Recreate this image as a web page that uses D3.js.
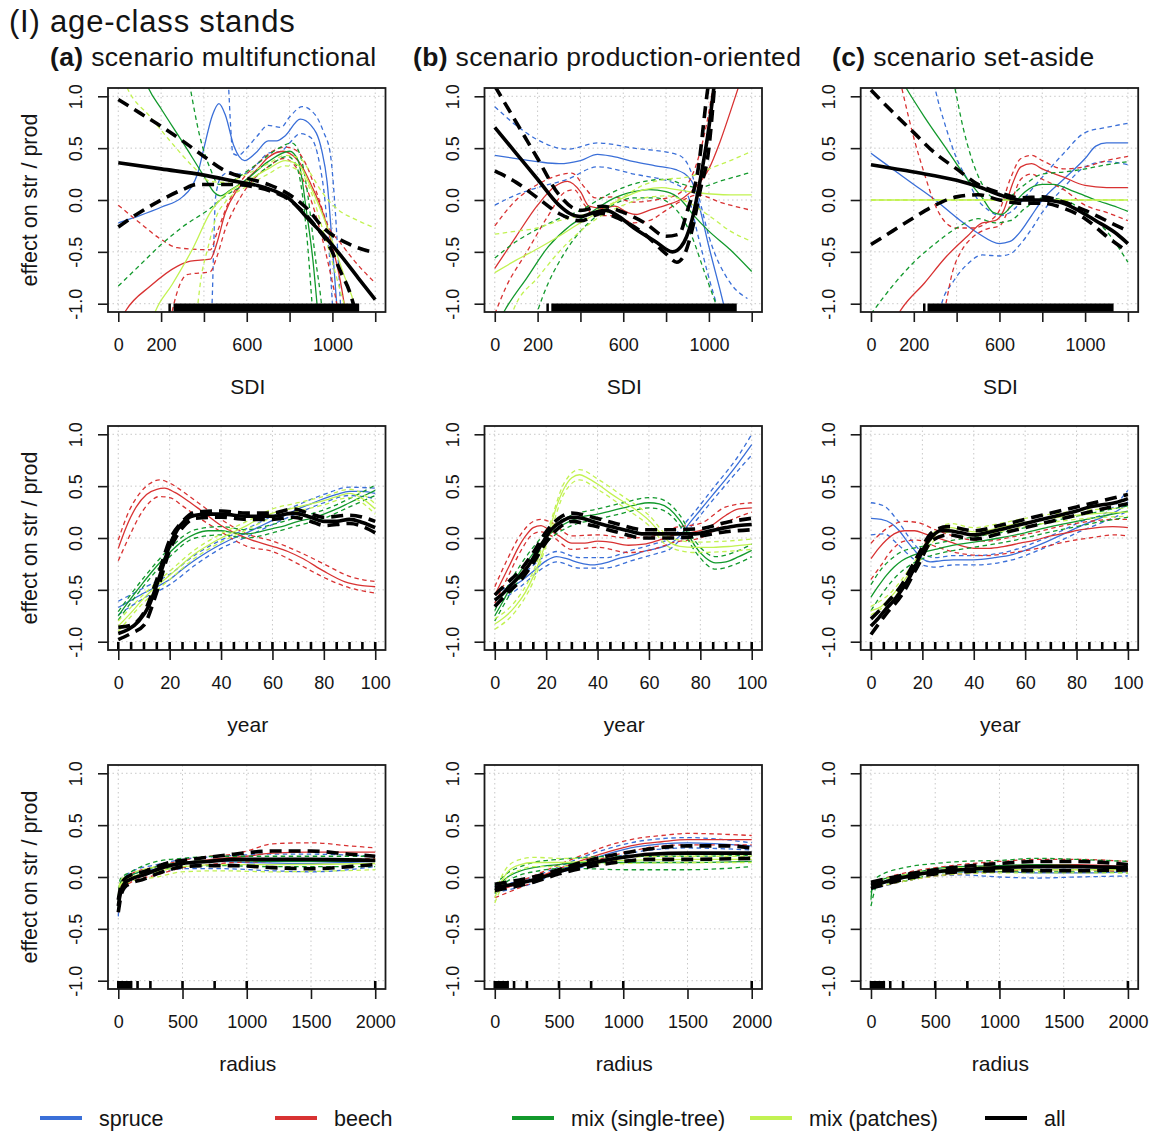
<!DOCTYPE html>
<html><head><meta charset="utf-8">
<script src="https://cdn.jsdelivr.net/npm/d3@7"></script>
<style>
body{margin:0;background:#fff}
svg{display:block}
text{font-family:"Liberation Sans",Arial,Helvetica,sans-serif;fill:#141414}
</style></head>
<body><svg id="chart" width="1149" height="1132"></svg>
<script>
// ---------------- DATA ----------------
const mainTitle = "(I) age-class stands";
const scenarioTags = ["(a)", "(b)", "(c)"];
const scenarioNames = ["scenario multifunctional", "scenario production-oriented", "scenario set-aside"];
const groupNames = ["spruce", "beech", "mix (single-tree)", "mix (patches)", "all"];
const xTitles = ["SDI", "year", "radius"];
const yTitle = "effect on str / prod";
const yTicks = [-1, -0.5, 0, 0.5, 1];
const yTickLabels = ["-1.0", "-0.5", "0.0", "0.5", "1.0"];
const sdiTicks = [0, 200, 400, 600, 800, 1000, 1200];
const sdiTickLabels = [0, 200, 600, 1000];
const yearTicks = [0, 20, 40, 60, 80, 100];
const yearTickLabels = [0, 20, 40, 60, 80, 100];
const radiusTicks = [0, 500, 1000, 1500, 2000];
const radiusTickLabels = [0, 500, 1000, 1500, 2000];
// rug (observed values): SDI as [from,to] spans, year & radius as single values
const sdiRugA = [[234, 238], [258, 1125]];
const sdiRugB = [[241, 245], [264, 1130]];
const sdiRugC = [[243, 247], [264, 1133]];
const yearRug = [0, 5, 10, 15, 20, 25, 30, 35, 40, 45, 50, 55, 60, 65, 70, 75, 80, 85, 90, 95, 100];
const radiusRug = [0, 10, 20, 25, 30, 40, 50, 60, 70, 75, 80, 90, 100, 150, 250, 500, 750, 1000, 2000];

// curves: flat [x0,y0, x1,y1, ...]; fit / lower band / upper band
// ---- (a) SDI multifunctional
const aSpruce = {
  fit: [0,-0.22, 100,-0.15, 200,-0.07, 300,0.03, 340,0.12, 370,0.25, 400,0.5, 440,0.82, 470,0.93, 500,0.82, 540,0.52, 590,0.38, 640,0.45, 700,0.57, 740,0.57, 780,0.62, 850,0.78, 900,0.72, 950,0.48, 975,0.18, 1000,-0.45, 1020,-1.0, 1030,-1.3],
  lo: [430,-1.3, 438,-1.0, 445,-0.5, 454,0.02, 480,0.22, 520,0.27, 560,0.25, 600,0.26, 650,0.35, 700,0.45, 760,0.47, 800,0.55, 850,0.64, 900,0.6, 940,0.35, 965,0.0, 985,-0.5, 1000,-1.0, 1010,-1.3],
  hi: [500,1.6, 515,1.1, 525,0.7, 535,0.45, 560,0.43, 600,0.5, 650,0.62, 700,0.72, 760,0.7, 800,0.8, 860,0.9, 920,0.82, 960,0.65, 990,0.45, 1010,0.0, 1025,-0.5, 1040,-1.1]
};
const aBeech = {
  fit: [0,-1.2, 34,-1.07, 150,-0.83, 275,-0.64, 337,-0.59, 430,-0.57, 460,-0.42, 500,-0.12, 550,0.08, 600,0.2, 650,0.3, 700,0.41, 770,0.47, 800,0.45, 850,0.35, 900,0.15, 960,-0.15, 1000,-0.45, 1037,-0.78, 1055,-1.0, 1070,-1.2],
  lo: [230,-1.3, 252,-1.07, 321,-0.72, 430,-0.69, 460,-0.55, 500,-0.28, 550,-0.05, 600,0.12, 700,0.32, 770,0.4, 800,0.38, 850,0.25, 900,0.0, 950,-0.35, 990,-0.7, 1020,-1.0, 1035,-1.2],
  hi: [0,-0.05, 100,-0.22, 200,-0.38, 275,-0.46, 430,-0.48, 460,-0.32, 520,0.0, 580,0.2, 650,0.35, 720,0.47, 780,0.51, 830,0.48, 880,0.33, 930,0.05, 980,-0.25, 1040,-0.42, 1100,-0.58, 1200,-0.8]
};
const aMixS = {
  fit: [100,1.3, 143,1.07, 200,0.88, 300,0.56, 400,0.23, 450,0.07, 477,0.04, 520,0.09, 600,0.2, 700,0.37, 800,0.47, 840,0.38, 881,-0.14, 910,-0.6, 928,-1.0, 945,-1.4],
  lo: [0,-0.83, 100,-0.63, 200,-0.43, 300,-0.26, 430,-0.08, 500,0.04, 600,0.16, 700,0.32, 790,0.42, 830,0.34, 860,0.05, 885,-0.45, 905,-1.0, 920,-1.4],
  hi: [300,1.5, 337,1.07, 380,0.62, 430,0.3, 470,0.15, 500,0.15, 560,0.22, 650,0.35, 750,0.5, 810,0.55, 850,0.43, 885,0.05, 920,-0.55, 951,-1.05, 965,-1.4]
};
const aMixP = {
  fit: [150,-1.2, 174,-1.07, 250,-0.82, 350,-0.46, 430,-0.12, 500,0.05, 600,0.18, 700,0.3, 780,0.38, 850,0.32, 900,0.12, 950,-0.12, 1000,-0.4, 1050,-0.7, 1107,-1.05, 1130,-1.3],
  lo: [355,-1.3, 368,-1.07, 384,-0.79, 420,-0.45, 460,-0.15, 500,-0.02, 600,0.13, 700,0.25, 780,0.33, 850,0.27, 900,0.08, 950,-0.25, 1000,-0.6, 1040,-0.9, 1070,-1.1],
  hi: [0,1.3, 42,1.08, 150,0.8, 250,0.55, 350,0.32, 430,0.18, 500,0.17, 600,0.25, 700,0.35, 780,0.43, 850,0.4, 900,0.25, 950,0.08, 1037,-0.11, 1100,-0.18, 1200,-0.27]
};
const aAll = {
  fit: [0,0.36, 200,0.3, 400,0.24, 571,0.17, 650,0.14, 726,0.09, 800,0.01, 881,-0.17, 960,-0.34, 1037,-0.53, 1120,-0.75, 1200,-0.96],
  lo: [0,-0.26, 100,-0.12, 200,0.0, 300,0.1, 368,0.15, 446,0.15, 550,0.15, 650,0.12, 720,0.08, 800,0.0, 900,-0.2, 990,-0.46, 1040,-0.7, 1083,-0.9, 1110,-1.1, 1130,-1.3],
  hi: [0,0.97, 100,0.84, 200,0.71, 300,0.57, 400,0.42, 500,0.28, 600,0.21, 700,0.15, 800,0.05, 880,-0.08, 959,-0.27, 1083,-0.43, 1200,-0.51]
};
// ---- (b) SDI production-oriented
const bSpruce = {
  fit: [0,0.43, 100,0.4, 200,0.37, 300,0.35, 400,0.38, 480,0.44, 550,0.42, 650,0.37, 750,0.33, 850,0.29, 920,0.18, 960,-0.1, 1000,-0.45, 1050,-0.85, 1080,-1.1],
  lo: [0,-0.05, 100,0.05, 200,0.12, 340,0.2, 480,0.32, 650,0.25, 850,0.15, 900,0.05, 950,-0.35, 1000,-0.75, 1050,-1.1],
  hi: [0,0.9, 100,0.72, 200,0.58, 340,0.49, 480,0.55, 650,0.5, 850,0.44, 900,0.35, 950,0.05, 1000,-0.35, 1100,-0.8, 1180,-0.95]
};
const bBeech = {
  fit: [0,-0.66, 100,-0.35, 200,-0.05, 280,0.13, 340,0.18, 400,0.08, 440,-0.06, 500,-0.08, 560,-0.06, 620,-0.12, 660,-0.14, 720,-0.1, 800,-0.05, 880,0.02, 950,0.15, 1000,0.3, 1050,0.55, 1100,0.85, 1140,1.1],
  lo: [0,-1.1, 50,-0.85, 150,-0.5, 250,-0.15, 330,0.08, 370,0.1, 420,-0.05, 470,-0.15, 550,-0.15, 650,-0.22, 720,-0.2, 800,-0.1, 880,0.0, 950,0.05, 1050,-0.02, 1200,-0.1],
  hi: [0,-0.25, 100,0.0, 200,0.15, 300,0.24, 360,0.26, 420,0.12, 470,0.02, 550,0.03, 650,-0.02, 750,0.0, 850,0.05, 900,0.15, 950,0.4, 1000,0.85, 1020,1.1]
};
const bMixS = {
  fit: [0,-1.25, 45,-1.07, 150,-0.75, 250,-0.45, 350,-0.25, 435,-0.14, 500,-0.05, 560,0.02, 650,0.08, 720,0.1, 800,0.08, 870,0.0, 930,-0.15, 1000,-0.3, 1100,-0.48, 1200,-0.69],
  lo: [180,-1.2, 200,-1.07, 250,-0.8, 300,-0.6, 400,-0.3, 450,-0.2, 550,-0.05, 650,0.02, 750,0.02, 850,-0.1, 920,-0.35, 980,-0.7, 1050,-1.1],
  hi: [0,-0.56, 100,-0.4, 200,-0.28, 300,-0.18, 400,-0.1, 500,0.02, 600,0.12, 700,0.18, 800,0.2, 880,0.15, 950,0.12, 1050,0.18, 1200,0.27]
};
const bMixP = {
  fit: [0,-0.7, 100,-0.58, 200,-0.47, 300,-0.35, 400,-0.22, 500,-0.1, 600,0.02, 700,0.1, 780,0.12, 850,0.1, 950,0.07, 1100,0.05, 1200,0.05],
  lo: [60,-1.2, 100,-1.0, 200,-0.75, 300,-0.5, 400,-0.3, 500,-0.15, 600,-0.05, 700,0.02, 800,0.04, 900,-0.02, 1000,-0.15, 1100,-0.3, 1200,-0.4],
  hi: [0,-0.33, 100,-0.3, 200,-0.27, 300,-0.2, 400,-0.15, 500,-0.08, 600,0.03, 700,0.15, 800,0.2, 900,0.22, 1000,0.3, 1100,0.38, 1200,0.47]
};
const bAll = {
  fit: [0,0.7, 100,0.45, 200,0.2, 300,-0.05, 350,-0.13, 400,-0.16, 450,-0.13, 520,-0.1, 580,-0.16, 650,-0.27, 750,-0.4, 830,-0.5, 870,-0.45, 920,-0.2, 960,0.2, 1000,0.7, 1030,1.2],
  lo: [0,0.28, 100,0.17, 200,0.02, 300,-0.13, 400,-0.2, 500,-0.13, 600,-0.2, 700,-0.33, 800,-0.52, 850,-0.6, 880,-0.55, 920,-0.3, 960,0.1, 1000,0.5, 1030,1.2],
  hi: [0,1.1, 100,0.75, 200,0.4, 300,0.05, 400,-0.1, 500,-0.06, 600,-0.12, 700,-0.22, 800,-0.35, 860,-0.33, 900,-0.1, 950,0.3, 990,1.0, 1010,1.3]
};
// ---- (c) SDI set-aside
const cSpruce = {
  fit: [0,0.45, 100,0.3, 200,0.15, 300,0.0, 400,-0.17, 500,-0.32, 600,-0.42, 650,-0.4, 700,-0.3, 750,-0.15, 800,0.0, 900,0.2, 1000,0.4, 1050,0.52, 1100,0.55, 1200,0.55],
  lo: [300,-1.3, 330,-1.0, 380,-0.8, 450,-0.62, 520,-0.53, 600,-0.54, 650,-0.52, 700,-0.42, 750,-0.28, 800,-0.12, 900,0.12, 1000,0.32, 1100,0.37, 1200,0.34],
  hi: [260,1.5, 300,1.07, 350,0.7, 400,0.4, 450,0.2, 500,0.0, 550,-0.1, 600,-0.15, 650,-0.12, 700,-0.02, 750,0.1, 800,0.22, 900,0.45, 1000,0.65, 1100,0.7, 1200,0.74]
};
const cBeech = {
  fit: [100,-1.2, 143,-1.05, 250,-0.8, 350,-0.55, 450,-0.35, 520,-0.22, 580,-0.2, 620,-0.1, 660,0.15, 700,0.32, 750,0.35, 800,0.3, 900,0.22, 1000,0.14, 1100,0.12, 1200,0.12],
  lo: [320,-1.3, 350,-1.0, 380,-0.7, 420,-0.5, 480,-0.35, 540,-0.28, 600,-0.25, 650,-0.05, 700,0.2, 750,0.25, 800,0.2, 900,0.1, 1000,-0.05, 1100,-0.12, 1200,-0.2],
  hi: [120,1.3, 145,1.07, 200,0.6, 250,0.25, 300,-0.05, 350,-0.22, 400,-0.27, 480,-0.27, 540,-0.22, 600,-0.1, 650,0.2, 700,0.4, 750,0.43, 800,0.38, 900,0.3, 1000,0.32, 1100,0.38, 1200,0.42]
};
const cMixS = {
  fit: [130,1.2, 167,1.07, 250,0.8, 350,0.5, 450,0.2, 520,0.02, 570,-0.12, 610,-0.14, 660,-0.05, 720,0.08, 800,0.15, 850,0.15, 950,0.08, 1050,0.0, 1150,-0.07, 1200,-0.11],
  lo: [0,-1.1, 100,-0.83, 200,-0.6, 300,-0.42, 400,-0.27, 500,-0.18, 580,-0.22, 650,-0.2, 720,-0.08, 800,0.02, 900,0.0, 1000,-0.12, 1100,-0.3, 1200,-0.6],
  hi: [370,1.3, 393,1.07, 430,0.7, 470,0.4, 520,0.15, 570,0.02, 620,0.0, 700,0.12, 800,0.25, 900,0.27, 1000,0.3, 1100,0.34, 1200,0.37]
};
const cMixP = {
  fit: [0,0.0, 1200,0.0],
  lo: [0,0.0, 1200,0.0],
  hi: [0,0.0, 1200,0.0]
};
const cAll = {
  fit: [0,0.34, 200,0.27, 400,0.19, 500,0.13, 600,0.05, 700,0.0, 800,0.0, 880,-0.02, 950,-0.08, 1050,-0.2, 1150,-0.33, 1200,-0.42],
  lo: [0,-0.43, 100,-0.3, 200,-0.17, 300,-0.05, 400,0.03, 500,0.05, 600,0.0, 700,-0.03, 800,-0.03, 900,-0.08, 1000,-0.18, 1100,-0.35, 1200,-0.5],
  hi: [0,1.06, 100,0.85, 200,0.65, 300,0.45, 400,0.3, 500,0.15, 600,0.07, 700,0.02, 800,0.03, 900,-0.02, 1000,-0.1, 1100,-0.2, 1200,-0.3]
};
// ---- (d) year multifunctional
const dSpruce = {
  fit: [0,-0.67, 5,-0.6, 10,-0.53, 15,-0.47, 20,-0.4, 25,-0.3, 30,-0.21, 35,-0.13, 40,-0.06, 45,0.0, 50,0.05, 55,0.11, 60,0.17, 65,0.22, 70,0.28, 75,0.33, 80,0.38, 85,0.42, 90,0.45, 95,0.45, 100,0.43],
  lo: [0,-0.74, 10,-0.58, 20,-0.45, 30,-0.26, 40,-0.1, 50,0.01, 60,0.13, 70,0.24, 80,0.34, 90,0.41, 100,0.38],
  hi: [0,-0.61, 10,-0.48, 20,-0.35, 30,-0.16, 40,-0.02, 50,0.09, 60,0.21, 70,0.32, 80,0.42, 90,0.49, 100,0.48]
};
const dBeech = {
  fit: [0,-0.1, 3,0.1, 7,0.3, 11,0.42, 15,0.47, 18,0.48, 22,0.44, 27,0.36, 32,0.27, 40,0.12, 46,0.04, 52,-0.02, 60,-0.08, 66,-0.13, 72,-0.2, 80,-0.32, 88,-0.42, 95,-0.46, 100,-0.47],
  lo: [0,-0.22, 4,0.0, 8,0.2, 12,0.34, 16,0.4, 20,0.39, 25,0.31, 30,0.22, 40,0.06, 50,-0.08, 60,-0.13, 70,-0.25, 80,-0.38, 90,-0.48, 100,-0.53],
  hi: [0,-0.02, 4,0.25, 8,0.42, 12,0.52, 16,0.56, 20,0.53, 25,0.45, 30,0.36, 40,0.18, 50,0.04, 60,-0.03, 70,-0.13, 80,-0.25, 90,-0.37, 100,-0.42]
};
const dMixS = {
  fit: [0,-0.75, 5,-0.58, 10,-0.42, 15,-0.27, 20,-0.14, 25,-0.03, 30,0.04, 35,0.07, 40,0.07, 45,0.05, 50,0.04, 55,0.06, 60,0.09, 65,0.12, 70,0.16, 75,0.19, 80,0.23, 85,0.28, 90,0.34, 95,0.4, 100,0.46],
  lo: [0,-0.79, 10,-0.46, 20,-0.18, 30,0.0, 40,0.03, 50,0.0, 60,0.05, 70,0.12, 80,0.19, 90,0.3, 100,0.41],
  hi: [0,-0.71, 10,-0.38, 20,-0.1, 30,0.08, 40,0.11, 50,0.08, 60,0.13, 70,0.2, 80,0.27, 90,0.38, 100,0.51]
};
const dMixP = {
  fit: [0,-0.85, 5,-0.72, 10,-0.58, 15,-0.46, 20,-0.36, 25,-0.25, 30,-0.15, 35,-0.07, 40,0.0, 45,0.06, 50,0.12, 55,0.19, 60,0.24, 65,0.27, 70,0.3, 75,0.33, 80,0.36, 85,0.4, 90,0.43, 95,0.38, 100,0.28],
  lo: [0,-0.9, 10,-0.62, 20,-0.4, 30,-0.19, 40,-0.04, 50,0.08, 60,0.2, 70,0.26, 80,0.32, 90,0.39, 100,0.23],
  hi: [0,-0.8, 10,-0.54, 20,-0.32, 30,-0.11, 40,0.04, 50,0.16, 60,0.28, 70,0.34, 80,0.4, 90,0.47, 100,0.33]
};
const dAll = {
  fit: [0,-0.92, 4,-0.88, 8,-0.8, 12,-0.65, 15,-0.45, 18,-0.22, 20,-0.07, 23,0.08, 26,0.17, 30,0.22, 35,0.23, 40,0.23, 50,0.21, 60,0.21, 68,0.24, 75,0.2, 80,0.16, 85,0.16, 90,0.18, 95,0.15, 100,0.1],
  lo: [0,-0.98, 5,-0.92, 10,-0.84, 15,-0.52, 20,-0.12, 25,0.1, 30,0.19, 40,0.2, 50,0.18, 60,0.18, 68,0.2, 75,0.16, 80,0.12, 90,0.14, 100,0.05],
  hi: [0,-0.86, 5,-0.84, 10,-0.72, 15,-0.4, 20,-0.02, 25,0.16, 30,0.25, 40,0.26, 50,0.24, 60,0.24, 68,0.28, 75,0.23, 80,0.2, 90,0.22, 100,0.16]
};
// ---- (e) year production-oriented
const eSpruce = {
  fit: [0,-0.6, 5,-0.5, 10,-0.42, 15,-0.32, 20,-0.22, 24,-0.18, 28,-0.2, 33,-0.24, 38,-0.26, 43,-0.24, 48,-0.2, 53,-0.17, 58,-0.13, 63,-0.1, 68,-0.06, 72,0.02, 76,0.15, 80,0.27, 85,0.42, 90,0.57, 95,0.73, 100,0.9],
  lo: [0,-0.65, 10,-0.47, 20,-0.27, 24,-0.23, 33,-0.29, 43,-0.29, 53,-0.22, 63,-0.15, 68,-0.11, 76,0.1, 85,0.37, 95,0.66, 100,0.8],
  hi: [0,-0.55, 10,-0.37, 20,-0.17, 24,-0.13, 33,-0.19, 43,-0.19, 53,-0.12, 63,-0.05, 68,-0.01, 76,0.2, 85,0.48, 95,0.8, 100,1.0]
};
const eBeech = {
  fit: [0,-0.55, 3,-0.4, 6,-0.25, 9,-0.1, 12,0.02, 15,0.1, 18,0.12, 21,0.08, 25,0.02, 30,-0.05, 35,-0.05, 40,-0.03, 45,-0.04, 52,-0.07, 58,-0.06, 64,-0.02, 70,0.03, 75,0.05, 80,0.07, 85,0.13, 90,0.22, 95,0.28, 100,0.29],
  lo: [0,-0.63, 5,-0.38, 10,-0.13, 15,0.04, 18,0.06, 22,0.02, 30,-0.11, 40,-0.09, 52,-0.14, 60,-0.12, 70,-0.04, 80,0.0, 90,0.15, 100,0.25],
  hi: [0,-0.47, 5,-0.2, 10,0.03, 15,0.16, 18,0.18, 22,0.15, 30,0.02, 40,0.03, 52,0.0, 60,0.01, 70,0.1, 80,0.14, 90,0.3, 100,0.34]
};
const eMixS = {
  fit: [0,-0.75, 3,-0.62, 6,-0.48, 10,-0.32, 14,-0.18, 18,-0.05, 22,0.05, 26,0.12, 30,0.17, 35,0.21, 40,0.23, 45,0.26, 50,0.29, 55,0.32, 60,0.34, 64,0.33, 68,0.28, 72,0.17, 75,0.05, 78,-0.08, 82,-0.19, 86,-0.24, 90,-0.23, 95,-0.18, 100,-0.12],
  lo: [0,-0.8, 6,-0.54, 14,-0.24, 22,0.0, 30,0.12, 40,0.18, 50,0.24, 60,0.29, 64,0.28, 68,0.23, 72,0.12, 78,-0.13, 86,-0.3, 95,-0.24, 100,-0.18],
  hi: [0,-0.7, 6,-0.42, 14,-0.12, 22,0.1, 30,0.22, 40,0.28, 50,0.34, 60,0.39, 64,0.38, 68,0.33, 72,0.22, 78,-0.03, 86,-0.18, 95,-0.12, 100,-0.06]
};
const eMixP = {
  fit: [0,-0.83, 4,-0.76, 8,-0.66, 12,-0.52, 15,-0.37, 18,-0.18, 21,0.05, 24,0.3, 27,0.48, 30,0.58, 33,0.61, 36,0.58, 40,0.52, 45,0.43, 50,0.35, 55,0.27, 60,0.17, 64,0.06, 68,-0.04, 72,-0.08, 78,-0.09, 85,-0.09, 92,-0.08, 100,-0.06],
  lo: [0,-0.88, 8,-0.71, 15,-0.42, 21,0.0, 27,0.43, 33,0.56, 40,0.47, 50,0.3, 60,0.12, 68,-0.09, 78,-0.14, 90,-0.13, 100,-0.11],
  hi: [0,-0.78, 8,-0.61, 15,-0.32, 21,0.1, 27,0.53, 33,0.66, 40,0.57, 50,0.4, 60,0.22, 68,0.01, 78,-0.04, 90,-0.03, 100,-0.01]
};
const eAll = {
  fit: [0,-0.6, 3,-0.54, 6,-0.46, 10,-0.36, 13,-0.27, 16,-0.15, 19,-0.03, 22,0.08, 26,0.16, 30,0.2, 34,0.19, 38,0.16, 42,0.13, 47,0.1, 52,0.07, 58,0.04, 65,0.04, 72,0.04, 78,0.04, 84,0.07, 90,0.1, 95,0.12, 100,0.13],
  lo: [0,-0.66, 5,-0.53, 10,-0.41, 15,-0.24, 20,-0.04, 25,0.1, 30,0.16, 38,0.12, 47,0.06, 58,0.0, 70,0.0, 80,0.02, 90,0.06, 100,0.08],
  hi: [0,-0.55, 5,-0.43, 10,-0.31, 15,-0.14, 20,0.06, 25,0.19, 30,0.24, 38,0.2, 47,0.14, 58,0.08, 70,0.08, 80,0.09, 90,0.15, 100,0.19]
};
// ---- (f) year set-aside
const fSpruce = {
  fit: [0,0.19, 4,0.18, 8,0.14, 11,0.07, 14,-0.03, 17,-0.12, 20,-0.2, 23,-0.23, 27,-0.22, 32,-0.21, 40,-0.21, 48,-0.19, 55,-0.16, 62,-0.1, 68,-0.04, 75,0.04, 82,0.12, 88,0.18, 93,0.23, 97,0.28, 100,0.35],
  lo: [0,0.03, 5,0.04, 10,-0.05, 15,-0.17, 20,-0.26, 25,-0.28, 32,-0.26, 40,-0.26, 55,-0.21, 68,-0.09, 82,0.07, 93,0.18, 100,0.26],
  hi: [0,0.34, 5,0.31, 10,0.18, 15,0.0, 20,-0.14, 25,-0.19, 32,-0.17, 40,-0.17, 55,-0.12, 68,0.0, 82,0.16, 93,0.27, 100,0.46]
};
const fBeech = {
  fit: [0,-0.2, 3,-0.1, 6,-0.02, 9,0.04, 13,0.07, 17,0.07, 21,0.04, 26,0.0, 31,-0.04, 36,-0.08, 41,-0.1, 46,-0.1, 52,-0.08, 58,-0.05, 64,-0.02, 70,0.02, 76,0.05, 82,0.08, 88,0.1, 94,0.11, 100,0.1],
  lo: [0,-0.4, 4,-0.26, 8,-0.12, 13,-0.03, 18,-0.02, 25,-0.08, 35,-0.15, 45,-0.17, 55,-0.14, 65,-0.1, 75,-0.04, 85,0.0, 95,0.03, 100,0.02],
  hi: [0,-0.05, 4,0.05, 8,0.12, 13,0.16, 18,0.15, 25,0.08, 35,0.0, 45,-0.03, 55,0.01, 65,0.06, 75,0.12, 85,0.16, 95,0.18, 100,0.18]
};
const fMixS = {
  fit: [0,-0.57, 3,-0.46, 6,-0.36, 9,-0.28, 12,-0.22, 16,-0.17, 20,-0.14, 25,-0.11, 30,-0.08, 40,-0.04, 50,0.0, 60,0.05, 70,0.11, 80,0.16, 90,0.21, 100,0.26],
  lo: [0,-0.7, 4,-0.55, 8,-0.42, 12,-0.32, 16,-0.25, 20,-0.2, 30,-0.13, 40,-0.09, 50,-0.05, 60,0.0, 70,0.06, 80,0.11, 90,0.16, 100,0.2],
  hi: [0,-0.45, 4,-0.3, 8,-0.2, 12,-0.13, 16,-0.1, 20,-0.08, 30,-0.03, 40,0.01, 50,0.05, 60,0.1, 70,0.16, 80,0.21, 90,0.26, 100,0.31]
};
const fMixP = {
  fit: [0,-0.7, 4,-0.66, 8,-0.56, 12,-0.44, 16,-0.3, 20,-0.14, 24,0.0, 28,0.08, 31,0.1, 35,0.08, 40,0.06, 45,0.07, 50,0.1, 55,0.13, 60,0.15, 70,0.19, 80,0.22, 90,0.24, 100,0.25],
  lo: [0,-0.74, 8,-0.6, 16,-0.34, 24,-0.04, 31,0.06, 40,0.02, 50,0.06, 60,0.11, 80,0.18, 100,0.21],
  hi: [0,-0.66, 8,-0.52, 16,-0.26, 24,0.04, 31,0.14, 40,0.1, 50,0.14, 60,0.19, 80,0.26, 100,0.29]
};
const fAll = {
  fit: [0,-0.85, 3,-0.77, 6,-0.68, 9,-0.6, 12,-0.5, 15,-0.38, 18,-0.23, 21,-0.08, 24,0.02, 27,0.07, 30,0.07, 35,0.05, 40,0.03, 45,0.05, 50,0.08, 55,0.11, 60,0.14, 65,0.17, 70,0.2, 75,0.23, 80,0.26, 85,0.3, 90,0.32, 95,0.34, 100,0.38],
  lo: [0,-0.93, 6,-0.73, 12,-0.55, 18,-0.28, 24,-0.02, 30,0.03, 40,-0.01, 50,0.04, 60,0.1, 70,0.16, 80,0.22, 90,0.28, 100,0.33],
  hi: [0,-0.78, 6,-0.63, 12,-0.45, 18,-0.18, 24,0.06, 30,0.11, 40,0.07, 50,0.12, 60,0.18, 70,0.24, 80,0.3, 90,0.36, 100,0.42]
};
// ---- (g) radius multifunctional
const gSpruce = {
  fit: [0,-0.33, 15,-0.12, 50,-0.02, 100,0.02, 300,0.08, 500,0.13, 800,0.15, 1000,0.14, 1400,0.13, 2000,0.15],
  lo: [0,-0.38, 15,-0.16, 100,-0.02, 300,0.04, 500,0.08, 800,0.08, 1200,0.06, 1500,0.05, 2000,0.1],
  hi: [0,-0.28, 15,-0.08, 100,0.05, 300,0.12, 500,0.17, 800,0.2, 1200,0.22, 1500,0.22, 2000,0.2]
};
const gBeech = {
  fit: [0,-0.28, 15,-0.1, 50,-0.04, 100,0.0, 200,0.02, 400,0.1, 600,0.15, 800,0.18, 1000,0.2, 1200,0.23, 1500,0.24, 2000,0.24],
  lo: [0,-0.34, 15,-0.14, 100,-0.05, 300,0.02, 500,0.09, 700,0.12, 900,0.14, 1200,0.15, 1500,0.16, 2000,0.18],
  hi: [0,-0.22, 15,-0.06, 100,0.03, 300,0.1, 500,0.16, 700,0.2, 900,0.22, 1000,0.25, 1200,0.32, 1500,0.33, 1800,0.3, 2000,0.28]
};
const gMixS = {
  fit: [0,-0.25, 15,-0.06, 50,0.0, 100,0.02, 300,0.1, 500,0.14, 800,0.16, 1200,0.15, 2000,0.15],
  lo: [0,-0.3, 15,-0.1, 100,-0.01, 300,0.06, 500,0.1, 800,0.11, 1200,0.1, 2000,0.1],
  hi: [0,-0.2, 15,-0.02, 100,0.05, 300,0.15, 500,0.18, 800,0.2, 1200,0.2, 2000,0.2]
};
const gMixP = {
  fit: [0,-0.22, 15,-0.08, 50,-0.03, 100,0.0, 300,0.05, 500,0.1, 800,0.12, 1200,0.12, 2000,0.13],
  lo: [0,-0.27, 15,-0.12, 100,-0.04, 300,0.0, 500,0.05, 800,0.06, 1200,0.05, 2000,0.07],
  hi: [0,-0.18, 15,-0.04, 100,0.03, 300,0.1, 500,0.14, 800,0.16, 1200,0.17, 2000,0.17]
};
const gAll = {
  fit: [0,-0.28, 10,-0.2, 25,-0.12, 50,-0.06, 100,-0.02, 200,0.02, 300,0.07, 400,0.11, 500,0.13, 700,0.15, 900,0.17, 1200,0.17, 1500,0.17, 2000,0.16],
  lo: [0,-0.34, 25,-0.16, 50,-0.1, 100,-0.06, 200,-0.02, 300,0.03, 400,0.07, 500,0.1, 700,0.11, 900,0.11, 1200,0.09, 1500,0.08, 1800,0.1, 2000,0.12],
  hi: [0,-0.22, 25,-0.07, 50,-0.02, 100,0.02, 200,0.05, 300,0.1, 400,0.14, 500,0.16, 700,0.19, 900,0.22, 1200,0.25, 1500,0.25, 1800,0.22, 2000,0.2]
};
// ---- (h) radius production-oriented
const hSpruce = {
  fit: [0,-0.12, 300,-0.03, 500,0.07, 700,0.15, 900,0.23, 1100,0.29, 1300,0.32, 1500,0.33, 2000,0.3],
  lo: [0,-0.15, 300,-0.06, 500,0.04, 700,0.1, 900,0.18, 1100,0.24, 1300,0.27, 1500,0.28, 2000,0.26],
  hi: [0,-0.09, 300,0.0, 500,0.1, 700,0.2, 900,0.28, 1100,0.34, 1300,0.37, 1500,0.38, 2000,0.33]
};
const hBeech = {
  fit: [0,-0.15, 100,-0.1, 300,-0.02, 500,0.08, 700,0.17, 900,0.25, 1100,0.31, 1300,0.34, 1500,0.36, 2000,0.36],
  lo: [0,-0.2, 300,-0.05, 500,0.05, 700,0.13, 900,0.2, 1100,0.26, 1300,0.3, 1500,0.31, 2000,0.31],
  hi: [0,-0.12, 300,0.01, 500,0.12, 700,0.22, 900,0.31, 1100,0.37, 1300,0.4, 1500,0.42, 2000,0.4]
};
const hMixS = {
  fit: [0,-0.12, 100,0.0, 200,0.06, 300,0.09, 500,0.12, 700,0.14, 1000,0.14, 1500,0.14, 2000,0.15],
  lo: [0,-0.16, 100,-0.04, 200,0.02, 300,0.05, 500,0.08, 700,0.08, 1000,0.07, 1500,0.07, 2000,0.1],
  hi: [0,-0.08, 100,0.04, 200,0.1, 300,0.14, 500,0.17, 700,0.19, 1000,0.2, 1500,0.2, 2000,0.21]
};
const hMixP = {
  fit: [0,-0.2, 50,-0.05, 100,0.05, 200,0.12, 300,0.14, 500,0.14, 700,0.15, 1000,0.16, 1500,0.17, 2000,0.17],
  lo: [0,-0.25, 100,0.0, 200,0.07, 300,0.1, 500,0.1, 700,0.12, 1000,0.13, 1500,0.14, 2000,0.14],
  hi: [0,-0.15, 100,0.1, 200,0.17, 300,0.19, 500,0.18, 700,0.18, 1000,0.19, 1500,0.2, 2000,0.2]
};
const hAll = {
  fit: [0,-0.1, 100,-0.08, 300,-0.03, 500,0.05, 700,0.12, 900,0.17, 1000,0.19, 1200,0.22, 1500,0.23, 2000,0.23],
  lo: [0,-0.13, 300,-0.05, 500,0.03, 700,0.09, 1000,0.15, 1200,0.17, 1500,0.17, 2000,0.18],
  hi: [0,-0.07, 300,0.0, 500,0.07, 700,0.15, 1000,0.23, 1200,0.27, 1500,0.3, 1800,0.3, 2000,0.28]
};
// ---- (i) radius set-aside
const iSpruce = {
  fit: [0,-0.09, 300,0.0, 500,0.04, 700,0.05, 1000,0.05, 1300,0.04, 1600,0.04, 2000,0.05],
  lo: [0,-0.12, 300,-0.03, 500,0.01, 700,0.02, 1000,0.0, 1300,-0.01, 1600,0.0, 2000,0.01],
  hi: [0,-0.06, 300,0.03, 500,0.07, 700,0.08, 1000,0.09, 1300,0.09, 1600,0.09, 2000,0.09]
};
const iBeech = {
  fit: [0,-0.08, 300,0.01, 500,0.05, 700,0.07, 1000,0.1, 1300,0.12, 1600,0.12, 2000,0.1],
  lo: [0,-0.11, 300,-0.03, 500,0.01, 700,0.03, 1000,0.05, 1300,0.07, 1600,0.07, 2000,0.05],
  hi: [0,-0.05, 300,0.05, 500,0.09, 700,0.12, 1000,0.15, 1300,0.17, 1600,0.17, 2000,0.15]
};
const iMixS = {
  fit: [0,-0.22, 10,-0.1, 50,-0.04, 300,0.03, 500,0.08, 700,0.1, 1000,0.11, 1300,0.12, 1600,0.11, 2000,0.09],
  lo: [0,-0.28, 50,-0.08, 300,-0.03, 500,0.03, 700,0.05, 1000,0.05, 1300,0.05, 1600,0.05, 2000,0.04],
  hi: [0,-0.15, 50,0.0, 300,0.1, 500,0.13, 700,0.15, 1000,0.16, 1300,0.18, 1600,0.17, 2000,0.15]
};
const iMixP = {
  fit: [0,-0.08, 300,0.0, 500,0.04, 700,0.06, 1000,0.07, 1300,0.07, 2000,0.07],
  lo: [0,-0.11, 300,-0.03, 500,0.01, 700,0.03, 1000,0.04, 1300,0.04, 2000,0.04],
  hi: [0,-0.05, 300,0.03, 500,0.07, 700,0.09, 1000,0.1, 1300,0.1, 2000,0.1]
};
const iAll = {
  fit: [0,-0.08, 100,-0.05, 300,0.01, 500,0.05, 700,0.07, 1000,0.09, 1300,0.1, 1600,0.1, 2000,0.09],
  lo: [0,-0.11, 300,-0.01, 500,0.03, 700,0.05, 1000,0.06, 1300,0.06, 1600,0.06, 2000,0.07],
  hi: [0,-0.05, 300,0.03, 500,0.07, 700,0.1, 1000,0.13, 1300,0.15, 1600,0.15, 2000,0.12]
};

// ---------------- STYLE / LAYOUT ----------------
const groupColors = ["#3a6fd8", "#d83232", "#12992c", "#c2f252", "#000000"];
const colLeft = [108, 484.5, 860.7];
const rowTop = [88, 426, 765];
const boxW = 277.5, boxH = 224;

const rowsCfg = [
  {domain: [-48, 1248], ticks: sdiTicks, labels: sdiTickLabels},
  {domain: [-4, 104], ticks: yearTicks, labels: yearTickLabels},
  {domain: [-80, 2080], ticks: radiusTicks, labels: radiusTickLabels}
];
const panelSeries = [
  [aSpruce, aBeech, aMixS, aMixP, aAll],
  [bSpruce, bBeech, bMixS, bMixP, bAll],
  [cSpruce, cBeech, cMixS, cMixP, cAll],
  [dSpruce, dBeech, dMixS, dMixP, dAll],
  [eSpruce, eBeech, eMixS, eMixP, eAll],
  [fSpruce, fBeech, fMixS, fMixP, fAll],
  [gSpruce, gBeech, gMixS, gMixP, gAll],
  [hSpruce, hBeech, hMixS, hMixP, hAll],
  [iSpruce, iBeech, iMixS, iMixP, iAll]
];
const sdiRugs = [sdiRugA, sdiRugB, sdiRugC];

const pairs = a => { const out = []; for (let k = 0; k < a.length; k += 2) out.push([a[k], a[k + 1]]); return out; };

const svg = d3.select("#chart");

// titles
svg.append("text").attr("x", 9).attr("y", 32).attr("font-size", 31).attr("letter-spacing", 0.8).text(mainTitle);
const subX = [50, 413, 832];
scenarioTags.forEach((t, c) => {
  const tx = svg.append("text").attr("x", subX[c]).attr("y", 66).attr("font-size", 26.5).attr("letter-spacing", 0.35);
  tx.append("tspan").attr("font-weight", "bold").text(t);
  tx.append("tspan").text(" " + scenarioNames[c]);
});

const y = d3.scaleLinear().domain([-1.08, 1.08]);

panelSeries.forEach((series, idx) => {
  const r = Math.floor(idx / 3), c = idx % 3;
  const cfg = rowsCfg[r];
  const L = colLeft[c], T = rowTop[r];
  const x = d3.scaleLinear().domain(cfg.domain).range([0, boxW]);
  const ys = y.copy().range([boxH, 0]);
  const g = svg.append("g").attr("transform", `translate(${L},${T})`);
  const clipId = "clip" + idx;
  g.append("clipPath").attr("id", clipId).append("rect").attr("width", boxW).attr("height", boxH);

  // grid
  const grid = g.append("g").attr("stroke", "#c8c8c8").attr("stroke-width", 1).attr("stroke-dasharray", "1.5,3");
  grid.selectAll(".gx").data(cfg.ticks).join("line").attr("x1", d => x(d)).attr("x2", d => x(d)).attr("y1", 0).attr("y2", boxH);
  grid.selectAll(".gy").data(yTicks).join("line").attr("y1", d => ys(d)).attr("y2", d => ys(d)).attr("x1", 0).attr("x2", boxW);

  // curves
  const plot = g.append("g").attr("clip-path", `url(#${clipId})`);
  const line = d3.line().x(d => x(d[0])).y(d => ys(d[1])).curve(d3.curveMonotoneX);
  series.forEach((s, gi) => {
    const col = groupColors[gi];
    const isAll = gi === 4;
    const w = isAll ? 3.6 : 1.3;
    ["lo", "hi"].forEach(k => {
      plot.append("path").attr("d", line(pairs(s[k]))).attr("fill", "none").attr("stroke", col)
        .attr("stroke-width", w).attr("stroke-dasharray", isAll ? "12,7" : "4.5,3.5");
    });
    plot.append("path").attr("d", line(pairs(s.fit))).attr("fill", "none").attr("stroke", col).attr("stroke-width", w);
  });

  // rug
  if (r === 0) {
    g.selectAll(".rug").data(sdiRugs[c]).join("rect")
      .attr("x", d => x(d[0])).attr("width", d => Math.max(2.5, x(d[1]) - x(d[0])))
      .attr("y", boxH - 8.5).attr("height", 8.5).attr("fill", "#000");
  } else {
    const rug = r === 1 ? yearRug : radiusRug;
    g.selectAll(".rug").data(rug).join("line")
      .attr("x1", d => x(d)).attr("x2", d => x(d)).attr("y1", boxH - 8).attr("y2", boxH)
      .attr("stroke", "#000").attr("stroke-width", 2.6);
  }

  // box
  g.append("rect").attr("width", boxW).attr("height", boxH).attr("fill", "none").attr("stroke", "#1a1a1a").attr("stroke-width", 1.8);

  // x axis
  const xa = g.append("g").attr("transform", `translate(0,${boxH})`)
    .call(d3.axisBottom(x).tickValues(cfg.ticks).tickSize(10).tickPadding(16)
      .tickFormat(d => cfg.labels.includes(d) ? String(d) : ""));
  xa.select(".domain").remove();
  xa.selectAll("line").attr("stroke", "#1a1a1a").attr("stroke-width", 1.6);
  xa.selectAll("text").attr("font-size", 18).attr("font-family", "Liberation Sans, Arial, sans-serif").attr("fill", "#141414");

  // y axis
  const ya = g.append("g").call(d3.axisLeft(ys).tickValues(yTicks).tickSize(10).tickFormat((d, i) => yTickLabels[i]));
  ya.select(".domain").remove();
  ya.selectAll("line").attr("stroke", "#1a1a1a").attr("stroke-width", 1.6);
  ya.selectAll("text").attr("x", 0).attr("dy", 0).attr("text-anchor", "middle")
    .attr("transform", "translate(-26,0) rotate(-90)")
    .attr("font-size", 18).attr("font-family", "Liberation Sans, Arial, sans-serif").attr("fill", "#141414");

  // x title
  g.append("text").attr("x", boxW / 2 + 1).attr("y", boxH + 82).attr("text-anchor", "middle").attr("font-size", 21).text(xTitles[r]);
  // y title
  if (c === 0) {
    g.append("text").attr("transform", `translate(${37 - L},${boxH / 2}) rotate(-90)`)
      .attr("text-anchor", "middle").attr("font-size", 21.5).text(yTitle);
  }
});

// legend
const legX = [40, 275, 512, 750, 985];
const leg = svg.append("g");
groupNames.forEach((n, i) => {
  leg.append("line").attr("x1", legX[i]).attr("x2", legX[i] + 42).attr("y1", 1118).attr("y2", 1118)
    .attr("stroke", groupColors[i]).attr("stroke-width", 4);
  leg.append("text").attr("x", legX[i] + 59).attr("y", 1125.5).attr("font-size", 21.5).text(n);
});
</script></body></html>
